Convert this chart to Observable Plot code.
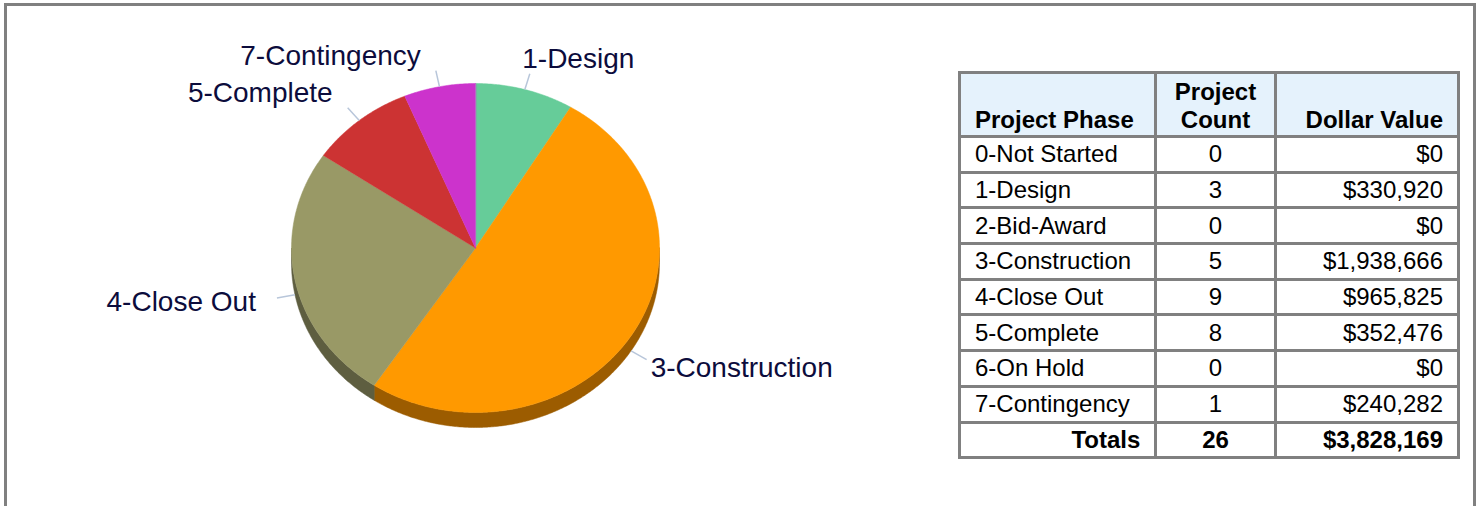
<!DOCTYPE html>
<html>
<head>
<meta charset="utf-8">
<script src="https://cdn.jsdelivr.net/npm/d3@7"></script>
<script src="https://cdn.jsdelivr.net/npm/@observablehq/plot@0.6"></script>
<style>
  html, body { margin: 0; padding: 0; background: #fff; }
  #wrap { position: relative; width: 1479px; height: 506px; overflow: hidden; font-family: "Liberation Sans", Arial, sans-serif; }
  #frame { position: absolute; left: 4px; top: 3px; width: 1472px; height: 620px; box-sizing: border-box; border: 3px solid #808080; }
  #chart { position: absolute; left: 0; top: 0; }
  #tbl { position: absolute; left: 958px; top: 71px; border-collapse: collapse; table-layout: fixed; width: 502px; font-size: 24px; color: #000; }
  #tbl td, #tbl th { border: 3px solid #808080; padding: 0 14px; white-space: nowrap; line-height: 28px; }
  #tbl th { background: #E5F2FC; font-weight: bold; vertical-align: bottom; padding-bottom: 1px; }
  #tbl tr.body td { height: 32.7px; padding-top: 0; padding-bottom: 0; }
  .l { text-align: left; } .c { text-align: center; } .r { text-align: right; }
  .b { font-weight: bold; }
</style>
</head>
<body>
<div id="wrap">
  <div id="frame"></div>
  <div id="chart"></div>
  <table id="tbl"></table>
</div>
<script>
// ---- data ----
const phases = ["0-Not Started", "1-Design", "2-Bid-Award", "3-Construction", "4-Close Out", "5-Complete", "6-On Hold", "7-Contingency"];
const counts = [0, 3, 0, 5, 9, 8, 0, 1];
const dollars = [0, 330920, 0, 1938666, 965825, 352476, 0, 240282];
const headers = ["Project Phase", "Project\nCount", "Dollar Value"];
const totalLabel = "Totals";

// ---- styles ----
const palette = ["#999999", "#66CC99", "#999999", "#FF9900", "#999966", "#CC3333", "#999999", "#CC33CC"];
const wallPalette = ["#666666", "#449977", "#666666", "#9C5C00", "#5E5E40", "#882222", "#666666", "#882288"];
const W = 950, H = 506;
const cx = 475, cy = 247.5, rx = 184, ry = 164.5, depth = 15;

// ---- geometry ----
const pieData = phases.map((p, i) => ({phase: p, value: dollars[i], color: palette[i], wall: wallPalette[i]}))
  .filter(d => d.value > 0);
const arcs = d3.pie().sort(null).value(d => d.value)(pieData);
const pt = (a, r = 1, dy = 0) => ({x: cx + rx * r * Math.sin(a), y: cy - ry * r * Math.cos(a) + dy});
function arcPts(a0, a1, r = 1, dy = 0) {
  const n = Math.max(2, Math.ceil((a1 - a0) / (Math.PI / 360)));
  return d3.range(n + 1).map(k => pt(a0 + (a1 - a0) * k / n, r, dy));
}
const marks = [];
// side walls (front-facing half: angles between PI/2 and 3PI/2)
for (const a of arcs) {
  const s = Math.max(a.startAngle, Math.PI / 2), e = Math.min(a.endAngle, 3 * Math.PI / 2);
  if (e > s) {
    const poly = [...arcPts(s, e), ...arcPts(s, e, 1, depth).reverse()];
    marks.push(Plot.line(poly, {x: "x", y: "y", fill: a.data.wall, stroke: a.data.wall, strokeWidth: 0.5, curve: "linear-closed"}));
  }
}
// top faces
for (const a of arcs) {
  const poly = [{x: cx, y: cy}, ...arcPts(a.startAngle, a.endAngle)];
  marks.push(Plot.line(poly, {x: "x", y: "y", fill: a.data.color, stroke: a.data.color, strokeWidth: 0.5, curve: "linear-closed"}));
}
// leader lines and labels
for (const a of arcs) {
  const m = (a.startAngle + a.endAngle) / 2;
  const lower = Math.cos(m) < 0;
  const off = lower ? depth : 0;
  const p0 = pt(m, 1.0, off), p1 = pt(m, 1.1, off);
  marks.push(Plot.link([{x1: p0.x, y1: p0.y, x2: p1.x, y2: p1.y}], {x1: "x1", y1: "y1", x2: "x2", y2: "y2", stroke: "#B8C6DA", strokeWidth: 1.5}));
  const right = Math.sin(m) > 0;
  marks.push(Plot.text([{x: p1.x, y: p1.y, label: a.data.phase}], {
    x: "x", y: "y", text: "label",
    textAnchor: right ? "start" : "end",
    lineAnchor: lower ? "middle" : "bottom",
    dx: right ? 4 - 12 * Math.max(0, Math.cos(m)) : (lower ? -21 : -15),
    dy: lower ? (right ? 8 : 4) : -6,
    fontSize: 28, fill: "#0C0C3C", fontFamily: "Liberation Sans, Arial, sans-serif"
  }));
}

const chart = Plot.plot({
  width: W, height: H,
  margin: 0,
  x: {type: "linear", domain: [0, W], range: [0, W], axis: null},
  y: {type: "linear", domain: [0, H], range: [0, H], axis: null},
  style: {background: "transparent", overflow: "visible"},
  marks
});
document.getElementById("chart").appendChild(chart);

// ---- table ----
const tbl = document.getElementById("tbl");
const colW = [196, 119, 183];
const cg = document.createElement("colgroup");
colW.forEach(w => { const c = document.createElement("col"); c.style.width = w + "px"; cg.appendChild(c); });
tbl.appendChild(cg);
const fmt = d3.format("$,.0f");
const hr = document.createElement("tr");
hr.style.height = "64px";
headers.forEach((h, i) => {
  const th = document.createElement("th");
  th.className = ["l", "c", "r"][i];
  th.innerHTML = h.replace("\n", "<br>");
  hr.appendChild(th);
});
tbl.appendChild(hr);
phases.forEach((p, i) => {
  const tr = document.createElement("tr");
  tr.className = "body";
  [[p, "l"], [String(counts[i]), "c"], [fmt(dollars[i]), "r"]].forEach(([t, c]) => {
    const td = document.createElement("td"); td.className = c; td.textContent = t; tr.appendChild(td);
  });
  tbl.appendChild(tr);
});
const tt = document.createElement("tr");
tt.className = "body";
[[totalLabel, "r b"], [String(d3.sum(counts)), "c b"], [fmt(d3.sum(dollars)), "r b"]].forEach(([t, c]) => {
  const td = document.createElement("td"); td.className = c; td.textContent = t; tt.appendChild(td);
});
tbl.appendChild(tt);
</script>
</body>
</html>
